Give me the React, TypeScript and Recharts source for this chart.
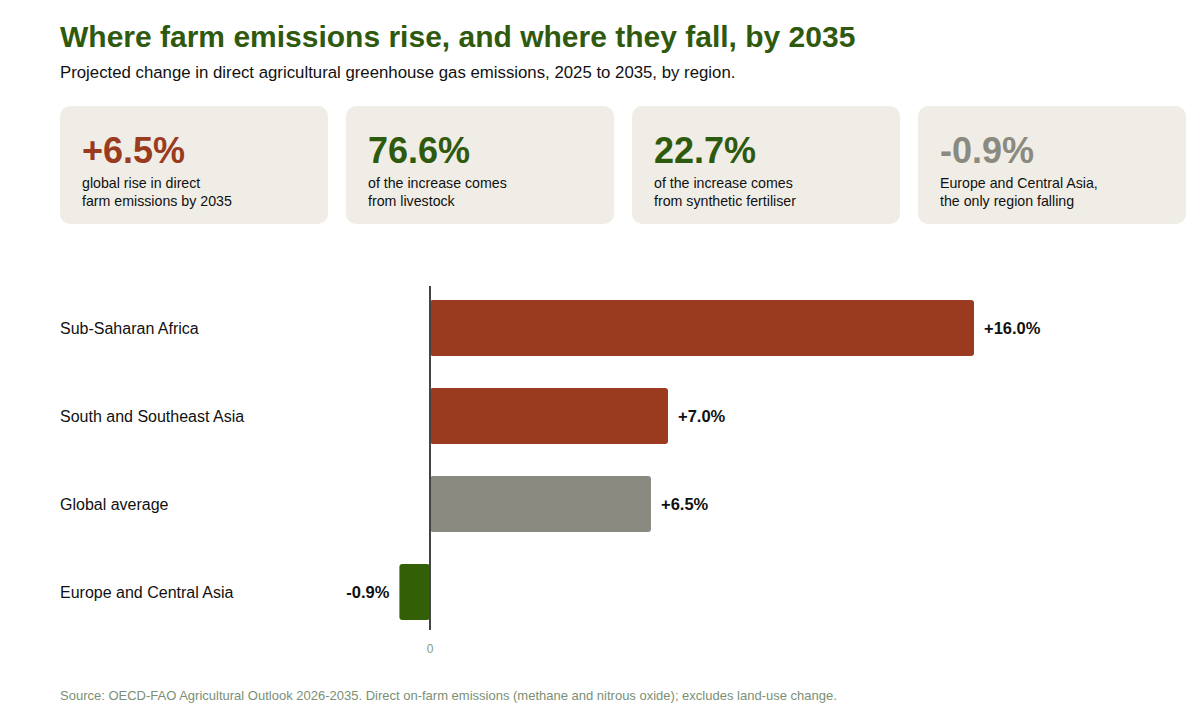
import React from "react";
import { Bar, BarChart, Cell, LabelList, ReferenceLine, XAxis, YAxis } from "recharts";

const regions = ["Sub-Saharan Africa", "South and Southeast Asia", "Global average", "Europe and Central Asia"];
const changes = [16.0, 7.0, 6.5, -0.9];
const barColors = ["#9a3b1f", "#9a3b1f", "#8a8a80", "#335f07"];

const cardValues = ["+6.5%", "76.6%", "22.7%", "-0.9%"];
const cardColors = ["#9a3b1f", "#2f5a0e", "#2f5a0e", "#8a8a80"];
const cardLines = [
  ["global rise in direct", "farm emissions by 2035"],
  ["of the increase comes", "from livestock"],
  ["of the increase comes", "from synthetic fertiliser"],
  ["Europe and Central Asia,", "the only region falling"],
];

const FONT = "'Liberation Sans', Arial, sans-serif";

const data = regions.map((region, i) => ({ region, change: changes[i] }));

const fmt = (v: number) => (v > 0 ? "+" : "") + v.toFixed(1) + "%";

function ValueLabel(props: any) {
  const { x, y, width, height, value } = props;
  const left = Math.min(x, x + width);
  const right = Math.max(x, x + width);
  const neg = value < 0;
  return (
    <text
      x={neg ? left - 10 : right + 10}
      y={y + height / 2}
      dy="0.35em"
      textAnchor={neg ? "end" : "start"}
      fontFamily={FONT}
      fontSize={16.5}
      fontWeight={700}
      fill="#111"
    >
      {fmt(value)}
    </text>
  );
}

function RegionTick(props: any) {
  const { y, payload } = props;
  return (
    <text x={60} y={y} dy="0.35em" textAnchor="start" fontFamily={FONT} fontSize={16} fill="#111">
      {payload.value}
    </text>
  );
}

// zero line, trimmed a little inside the plot area
function ZeroLine(props: any) {
  const { x1, y1, x2, y2 } = props;
  const top = Math.min(y1, y2);
  const bottom = Math.max(y1, y2);
  return <line x1={x1} y1={top + 2} x2={x2} y2={bottom - 6} stroke="#444" strokeWidth={2} />;
}

export default function App() {
  return (
    <div style={{ position: "absolute", left: 0, top: 0, width: 1200, height: 720, background: "#fff", fontFamily: FONT }}>
      <div style={{ position: "absolute", left: 60, top: 20, fontSize: 30, fontWeight: 700, color: "#2f5a0e", whiteSpace: "nowrap" }}>
        Where farm emissions rise, and where they fall, by 2035
      </div>
      <div style={{ position: "absolute", left: 60, top: 63, fontSize: 16.8, color: "#111", whiteSpace: "nowrap" }}>
        Projected change in direct agricultural greenhouse gas emissions, 2025 to 2035, by region.
      </div>

      {cardValues.map((v, i) => (
        <div
          key={i}
          style={{
            position: "absolute",
            left: 60 + i * 286,
            top: 106,
            width: 268,
            height: 118,
            borderRadius: 10,
            background: "#f0ede6",
          }}
        >
          <div style={{ position: "absolute", left: 22, top: 24, fontSize: 36, fontWeight: 700, color: cardColors[i], whiteSpace: "nowrap" }}>
            {v}
          </div>
          <div style={{ position: "absolute", left: 22, top: 68, fontSize: 14.2, lineHeight: "18px", color: "#111", whiteSpace: "nowrap" }}>
            {cardLines[i][0]}
            <br />
            {cardLines[i][1]}
          </div>
        </div>
      ))}

      <div style={{ position: "absolute", left: 0, top: 270 }}>
        <BarChart
          width={1200}
          height={400}
          data={data}
          layout="vertical"
          margin={{ top: 14, right: 158, left: 0, bottom: 4 }}
          barCategoryGap={16}
        >
          <XAxis
            type="number"
            domain={[-2, 18]}
            ticks={[0]}
            axisLine={false}
            tickLine={false}
            tick={{ fontSize: 12, fill: "#8a9a7a", fontFamily: FONT }}
          />
          <YAxis type="category" dataKey="region" width={362} axisLine={false} tickLine={false} tick={<RegionTick />} />
          <Bar dataKey="change" radius={3} isAnimationActive={false}>
            {data.map((d, i) => (
              <Cell key={d.region} fill={barColors[i]} />
            ))}
            <LabelList dataKey="change" content={<ValueLabel />} />
          </Bar>
          <ReferenceLine x={0} shape={<ZeroLine />} />
        </BarChart>
      </div>

      <div style={{ position: "absolute", left: 60, top: 688, fontSize: 13, color: "#7a8f76", whiteSpace: "nowrap" }}>
        Source: OECD-FAO Agricultural Outlook 2026-2035. Direct on-farm emissions (methane and nitrous oxide); excludes land-use change.
      </div>
    </div>
  );
}
